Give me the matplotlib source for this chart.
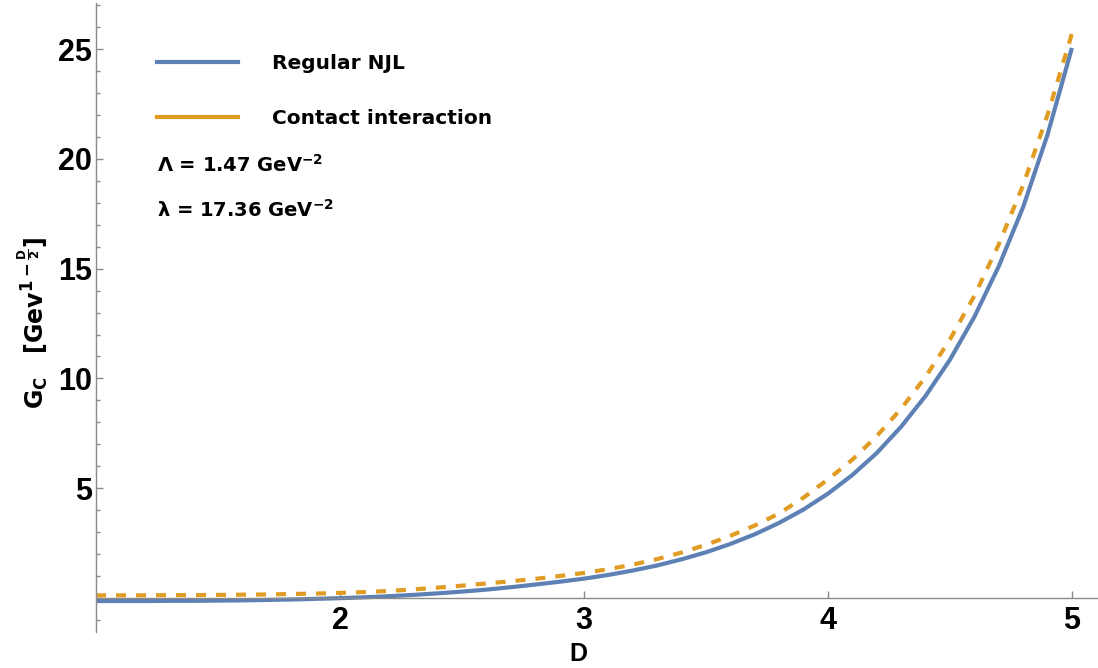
import matplotlib
matplotlib.use("Agg")
import matplotlib.pyplot as plt
from matplotlib.lines import Line2D
from matplotlib.ticker import MultipleLocator, FixedLocator

# dimension D and critical coupling for both models
D = [1.0, 1.1, 1.2, 1.3, 1.4, 1.5, 1.6, 1.7, 1.8, 1.9,
     2.0, 2.1, 2.2, 2.3, 2.4, 2.5, 2.6, 2.7, 2.8, 2.9,
     3.0, 3.1, 3.2, 3.3, 3.4, 3.5, 3.6, 3.7, 3.8, 3.9,
     4.0, 4.1, 4.2, 4.3, 4.4, 4.5, 4.6, 4.7, 4.8, 4.9, 5.0]

G_njl = [-0.14, -0.14, -0.14, -0.13, -0.13, -0.12, -0.11, -0.09, -0.07, -0.04,
         -0.01, 0.03, 0.08, 0.14, 0.21, 0.29, 0.38, 0.49, 0.61, 0.74,
         0.88, 1.05, 1.25, 1.48, 1.76, 2.08, 2.46, 2.90, 3.42, 4.03,
         4.75, 5.6, 6.6, 7.8, 9.2, 10.85, 12.8, 15.1, 17.8, 21.1, 25.05]

G_contact = [0.12, 0.12, 0.12, 0.13, 0.13, 0.14, 0.15, 0.16, 0.18, 0.20,
             0.23, 0.27, 0.32, 0.39, 0.47, 0.56, 0.66, 0.76, 0.87, 1.00,
             1.14, 1.31, 1.52, 1.77, 2.07, 2.42, 2.83, 3.30, 3.85, 4.57,
             5.4, 6.3, 7.37, 8.62, 10.07, 11.77, 13.76, 16.1, 18.8, 22.0, 25.7]

x_ticks = [2, 3, 4, 5]
y_ticks = [5, 10, 15, 20, 25]

blue = "#5E81B5"
orange = "#E19C24"
axis_gray = "#8a8a8a"

fig = plt.figure(figsize=(10.98, 6.68), dpi=100)
ax = fig.add_axes([96 / 1098, 36 / 668, 1 - 96 / 1098, (632 - 3) / 668])

ax.plot(D, G_njl, color=blue, lw=3, solid_capstyle="butt")
ax.plot(D, G_contact, color=orange, lw=3, dashes=(2.4, 2.4))

ax.set_xlim(1, 5.107)
ax.set_ylim(-1.55, 27.1)

# axes crossing at (1, 0)
ax.spines["left"].set_position(("data", 1))
ax.spines["bottom"].set_position(("data", 0))
ax.spines["right"].set_visible(False)
ax.spines["top"].set_visible(False)
for s in ("left", "bottom"):
    ax.spines[s].set_color(axis_gray)
    ax.spines[s].set_linewidth(1.0)

ax.xaxis.set_major_locator(FixedLocator(x_ticks))
ax.yaxis.set_major_locator(FixedLocator(y_ticks))
ax.yaxis.set_minor_locator(MultipleLocator(1))

ax.tick_params(axis="both", which="both", direction="in", color=axis_gray, width=1)
ax.tick_params(axis="both", which="major", length=5)
ax.tick_params(axis="y", which="minor", length=3)
ax.tick_params(axis="y", which="major", pad=3, labelsize=22)
ax.tick_params(axis="x", which="major", pad=6, labelsize=22)
for lab in ax.get_xticklabels() + ax.get_yticklabels():
    lab.set_fontweight("bold")
    lab.set_family("Liberation Sans")

ax.set_xlabel("D", fontsize=18, fontweight="bold", family="Liberation Sans", va="center")
ax.xaxis.set_label_coords((578 - 96) / 1002, (632 - 654) / 629)
fig.text(33 / 1098, 1 - 323 / 668,
         r"$\mathbf{G_C\ \ \ [Gev^{1-\frac{D}{2}}]}$",
         rotation=90, fontsize=17, ha="center", va="center")

handles = [Line2D([], [], color=blue, lw=3),
           Line2D([], [], color=orange, lw=3)]
fig.legend(handles, ["Regular NJL", "Contact interaction"],
           loc="upper left", bbox_to_anchor=(157 / 1098, 1 - 54 / 668),
           frameon=False, borderpad=0, borderaxespad=0,
           handlelength=4.0, handletextpad=1.7, labelspacing=1.8,
           prop={"size": 14.5, "weight": "bold"})

fig.text(157 / 1098, 1 - 165 / 668, r"$\mathbf{\Lambda}$ = 1.47 GeV$^{\mathbf{-2}}$",
         fontsize=14, fontweight="bold", va="center")
fig.text(157 / 1098, 1 - 210 / 668, r"$\mathbf{\lambda}$ = 17.36 GeV$^{\mathbf{-2}}$",
         fontsize=14, fontweight="bold", va="center")

fig.savefig("out.png", dpi=100)
